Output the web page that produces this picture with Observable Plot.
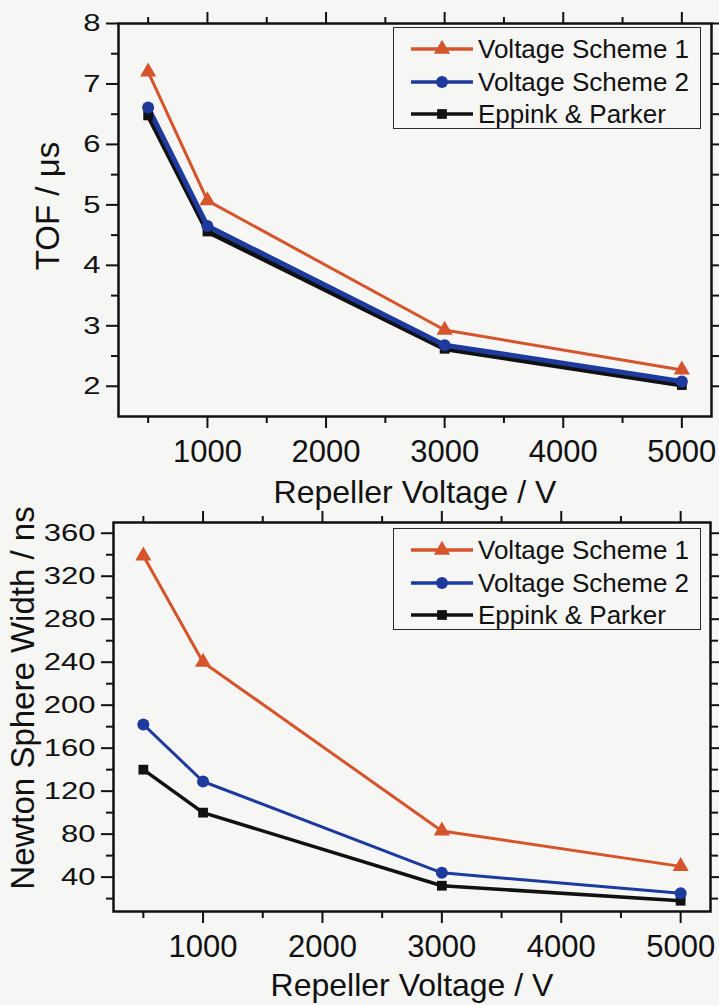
<!DOCTYPE html>
<html>
<head>
<meta charset="utf-8">
<script src="https://cdn.jsdelivr.net/npm/d3@7"></script>
<script src="https://cdn.jsdelivr.net/npm/@observablehq/plot@0.6"></script>
<style>
  html, body { margin: 0; padding: 0; background: #f6f6f5; }
  #fig { position: relative; width: 719px; height: 1005px; font-family: "Liberation Sans", Arial, sans-serif; color: #111; }
  .panel { position: absolute; left: 0; }
  .legend { position: absolute; box-sizing: border-box; border: 1.5px solid #2a2a2a; padding-top: 5px; }
  .legend .row { display: flex; align-items: center; height: 32.5px; }
  .legend svg { margin-left: 17px; margin-right: 5px; overflow: visible; }
  .legend span { font-size: 26px; line-height: 1; white-space: nowrap; }
</style>
</head>
<body>
<div id="fig"></div>
<script>
// ---------- data ----------
const voltages = [500, 1000, 3000, 5000];
const seriesNames = ["Voltage Scheme 1", "Voltage Scheme 2", "Eppink & Parker"];

const tofScheme1 = [7.2, 5.07, 2.93, 2.27];
const tofScheme2 = [6.61, 4.65, 2.68, 2.08];
const tofEppink  = [6.48, 4.56, 2.62, 2.02];

const widthScheme1 = [339, 240, 83, 50];
const widthScheme2 = [182, 129, 44, 25];
const widthEppink  = [140, 100, 32, 18];

const xMajorTicks = [1000, 2000, 3000, 4000, 5000];
const xMinorTicks = [500, 1500, 2500, 3500, 4500];
const tofMajorTicks = [2, 3, 4, 5, 6, 7, 8];
const tofMinorTicks = [2.5, 3.5, 4.5, 5.5, 6.5, 7.5];
const widthMajorTicks = [40, 80, 120, 160, 200, 240, 280, 320, 360];
const widthMinorTicks = [20, 60, 100, 140, 180, 220, 260, 300, 340];

const xTitle = "Repeller Voltage / V";
const tofTitle = "TOF / \u03bcs";
const widthTitle = "Newton Sphere Width / ns";

// ---------- styles ----------
const colors = ["#d5542b", "#1d3a9c", "#111111"];
const symbols = ["triangle", "circle", "square"];
const d3symbols = [d3.symbolTriangle, d3.symbolCircle, d3.symbolSquare];
const radii = [6, 6, 5.5];
const ink = "#111";
const plain = d => String(d);

function makePanel(cfg) {
  const seriesValues = cfg.series;
  const rows = seriesValues.flatMap((vals, s) =>
    voltages.map((v, i) => ({voltage: v, value: vals[i], series: seriesNames[s]})));
  const drawOrder = [2, 1, 0];
  const bySeries = s => rows.filter(d => d.series === seriesNames[s]);
  const tickStyle = {strokeWidth: 2, stroke: ink, label: null};

  const marks = [
    Plot.axisX(xMinorTicks, {anchor: "bottom", tickSize: 7, fill: "none", ...tickStyle}),
    Plot.axisX(xMajorTicks, {anchor: "bottom", tickSize: 12, tickPadding: 11, fill: ink, tickFormat: plain, ...tickStyle}),
    Plot.axisX(xMinorTicks, {anchor: "top", tickSize: 7, fill: "none", ...tickStyle}),
    Plot.axisX(xMajorTicks, {anchor: "top", tickSize: 12, fill: "none", ...tickStyle}),
    Plot.axisY(cfg.yMinor, {anchor: "left", tickSize: 7, fill: "none", ...tickStyle}),
    Plot.axisY(cfg.yMajor, {anchor: "left", tickSize: 12, tickPadding: 6, fill: ink, tickFormat: plain, ...tickStyle}),
    Plot.axisY(cfg.yMinor, {anchor: "right", tickSize: 7, fill: "none", ...tickStyle}),
    Plot.axisY(cfg.yMajor, {anchor: "right", tickSize: 8, fill: "none", ...tickStyle}),
    ...drawOrder.map(s => Plot.line(bySeries(s), {
      x: "voltage", y: "value", stroke: colors[s], strokeWidth: cfg.lineWidths[s], strokeLinejoin: "round"
    })),
    ...drawOrder.map(s => Plot.dot(bySeries(s), {
      x: "voltage", y: "value", symbol: symbols[s], r: radii[s], fill: colors[s], stroke: "none"
    })),
    Plot.frame({stroke: ink, strokeWidth: 2.5}),
    Plot.text([xTitle], {text: d => d, frameAnchor: "bottom", lineAnchor: "bottom", textAnchor: "middle", dy: cfg.xTitleDy, fontSize: 32, fill: ink}),
    Plot.text([cfg.yTitle], {text: d => d, frameAnchor: "left", rotate: -90, lineAnchor: "top", textAnchor: "middle", dx: cfg.yTitleDx, dy: cfg.yTitleDy, fontSize: 33, fill: ink})
  ];

  const svg = Plot.plot({
    width: 719,
    height: cfg.height,
    marginLeft: cfg.margins[0],
    marginRight: cfg.margins[1],
    marginTop: cfg.margins[2],
    marginBottom: cfg.margins[3],
    x: {domain: [250, 5250]},
    y: {domain: cfg.yDomain},
    style: {fontFamily: '"Liberation Sans", Arial, sans-serif', fontSize: "31px", color: ink, background: "transparent", overflow: "visible"},
    marks
  });

  // the y tick labels of the original are slightly flattened
  d3.select(svg).selectAll('g[aria-label="y-axis tick label"] text').each(function () {
    const t = this.getAttribute("transform") || "";
    this.setAttribute("transform", t + " scale(1,0.8)");
  });
  return svg;
}

function addLegend(fig, left, topPx) {
  const box = fig.append("div").attr("class", "legend")
    .style("left", left + "px").style("top", topPx + "px")
    .style("width", "308px").style("height", "102px");
  seriesNames.forEach((name, i) => {
    const row = box.append("div").attr("class", "row");
    const sw = row.append("svg").attr("width", 62).attr("height", 20);
    sw.append("line").attr("x1", 0).attr("x2", 62).attr("y1", 10).attr("y2", 10)
      .attr("stroke", colors[i]).attr("stroke-width", 3.5);
    sw.append("path").attr("d", d3.symbol(d3symbols[i], radii[i] * radii[i] * Math.PI)())
      .attr("transform", "translate(31,10)").attr("fill", colors[i]);
    row.append("span").text(name);
  });
}

const fig = d3.select("#fig");

const tofPanel = makePanel({
  series: [tofScheme1, tofScheme2, tofEppink],
  yDomain: [1.5, 8],
  yMajor: tofMajorTicks,
  yMinor: tofMinorTicks,
  yTitle: tofTitle,
  lineWidths: [3, 5, 5],
  height: 510,
  margins: [118, 8, 23, 94],
  xTitleDy: 86,
  yTitleDx: -83,
  yTitleDy: -14
});
fig.append("div").attr("class", "panel").style("top", "0px").node().appendChild(tofPanel);

const widthPanel = makePanel({
  series: [widthScheme1, widthScheme2, widthEppink],
  yDomain: [8, 370],
  yMajor: widthMajorTicks,
  yMinor: widthMinorTicks,
  yTitle: widthTitle,
  lineWidths: [3, 3, 3.5],
  height: 495,
  margins: [113, 9, 12, 94],
  xTitleDy: 84,
  yTitleDx: -103,
  yTitleDy: -19
});
fig.append("div").attr("class", "panel").style("top", "510px").node().appendChild(widthPanel);

addLegend(fig, 393, 27);
addLegend(fig, 393, 528);
</script>
</body>
</html>
